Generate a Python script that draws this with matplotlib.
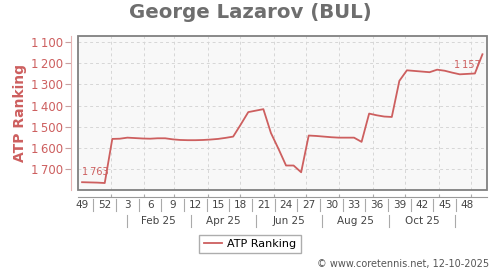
import numpy as np
import pandas as pd
import matplotlib
matplotlib.use("Agg")
import matplotlib.pyplot as plt
import matplotlib.dates as mdates
from matplotlib.patches import Rectangle
from matplotlib.ticker import FuncFormatter

# weekly ATP ranking, week 49/2024 .. week 50/2025 (plotted at mid-week)
weeks = pd.date_range("2024-12-02", periods=54, freq="7D") + pd.Timedelta(hours=84)
ranking = [1763, 1764, 1765, 1767,
           1558, 1557, 1552, 1554, 1556, 1557, 1555, 1555, 1560, 1563,
           1564, 1564, 1563, 1561, 1558, 1553, 1547, 1490, 1431, 1424,
           1417, 1530, 1605, 1684, 1684, 1716, 1542, 1544, 1547, 1550,
           1552, 1552, 1552, 1572, 1438, 1446, 1452, 1454, 1283, 1233,
           1236, 1239, 1242, 1230, 1235, 1244, 1252, 1250, 1248, 1157]

# band labels under the axis
week_labels = ["49", "52", "3", "6", "9", "12", "15", "18", "21", "24",
               "27", "30", "33", "36", "39", "42", "45", "48"]
month_labels = ["Feb 25", "Apr 25", "Jun 25", "Aug 25", "Oct 25"]
month_edges = pd.to_datetime(["2025-01-16", "2025-03-16", "2025-05-16",
                              "2025-07-16", "2025-09-16", "2025-11-16"])

red = "#cd5f5f"
fig = plt.figure(figsize=(5, 2.7), dpi=100)
ax = fig.add_axes([0.1566, 0.2963, 0.818, 0.5715])
ax.set_facecolor("#f8f8f8")

ax.plot(weeks, ranking, color=red, lw=1.3, zorder=3)

ax.set_xlim(pd.Timestamp("2024-12-02"), pd.Timestamp("2025-12-16"))
ax.set_ylim(1800, 1069)
ax.set_yticks([1100, 1200, 1300, 1400, 1500, 1600, 1700])
ax.yaxis.set_major_formatter(FuncFormatter(lambda v, p: f"{int(v):,}".replace(",", "\u2009")))
ax.xaxis.set_major_locator(mdates.MonthLocator())
ax.set_xticklabels([])
ax.grid(True, color="#d6d6d6", ls=(0, (3, 3)), lw=0.7)

# frame box + offset axis lines
ax.add_patch(Rectangle((0, 0), 1, 1, transform=ax.transAxes, fill=False,
                       ec="#808080", lw=1.3, zorder=4, clip_on=False))
for s in ["top", "right"]:
    ax.spines[s].set_visible(False)
ax.spines["left"].set_position(("outward", 5))
ax.spines["left"].set_color("#e6b4b4")
ax.spines["bottom"].set_position(("outward", 5))
ax.spines["bottom"].set_color("#999999")
ax.tick_params(axis="y", colors=red, labelsize=8.5, length=4, width=0.8, pad=2)
ax.tick_params(axis="y", color="#c8a0a0")
ax.tick_params(axis="x", length=2, color="#aaaaaa", direction="in")

trans = ax.get_xaxis_transform()
# week band labels + separators
band0 = pd.Timestamp("2024-12-02")
for k, lab in enumerate(week_labels):
    c = band0 + pd.Timedelta(days=21 * k + 3.5)
    ax.text(c, -0.094, lab, transform=trans, ha="center", va="center",
            fontsize=7.5, color="#444444")
for k in range(17):
    s = pd.Timestamp("2024-12-16") + pd.Timedelta(days=21 * k)
    ax.plot([s, s], [-0.058, -0.136], transform=trans, color="#aaaaaa",
            lw=0.8, clip_on=False)
# month band labels + separators
for i, lab in enumerate(month_labels):
    c = month_edges[i] + (month_edges[i + 1] - month_edges[i]) / 2
    ax.text(c, -0.198, lab, transform=trans, ha="center", va="center",
            fontsize=7.5, color="#444444")
for s in month_edges:
    ax.plot([s, s], [-0.162, -0.240], transform=trans, color="#aaaaaa",
            lw=0.8, clip_on=False)

# first / last value labels
ax.annotate(f"{ranking[0]:,}".replace(",", "\u2009"), (weeks[0], ranking[0]),
            xytext=(0, 4), textcoords="offset points", ha="left", va="bottom",
            fontsize=7, color=red)
ax.annotate(f"{ranking[-1]:,}".replace(",", "\u2009"), (weeks[-1], ranking[-1]),
            xytext=(-1, -4), textcoords="offset points", ha="right", va="top",
            fontsize=7, color=red)

fig.text(0.5, 1 - 13 / 270, "George Lazarov (BUL)", ha="center", va="center",
         fontsize=14.2, fontweight="bold", color="#6e6e6e")
fig.text(20.5 / 500, 1 - 113 / 270, "ATP Ranking", rotation=90, ha="center",
         va="center", fontsize=10, fontweight="bold", color=red)

fig.legend([plt.Line2D([], [], color=red, lw=1.3)], ["ATP Ranking"],
           loc="center", bbox_to_anchor=(0.5, 1 - 244 / 270), fontsize=8,
           frameon=True, fancybox=False, edgecolor="#999999",
           handlelength=1.6, handletextpad=0.5, borderpad=0.4)

fig.text(489 / 500, 1 - 264 / 270, "\u00a9 www.coretennis.net, 12-10-2025",
         ha="right", va="center", fontsize=7, color="#555555")

fig.savefig("out.png", dpi=100)
